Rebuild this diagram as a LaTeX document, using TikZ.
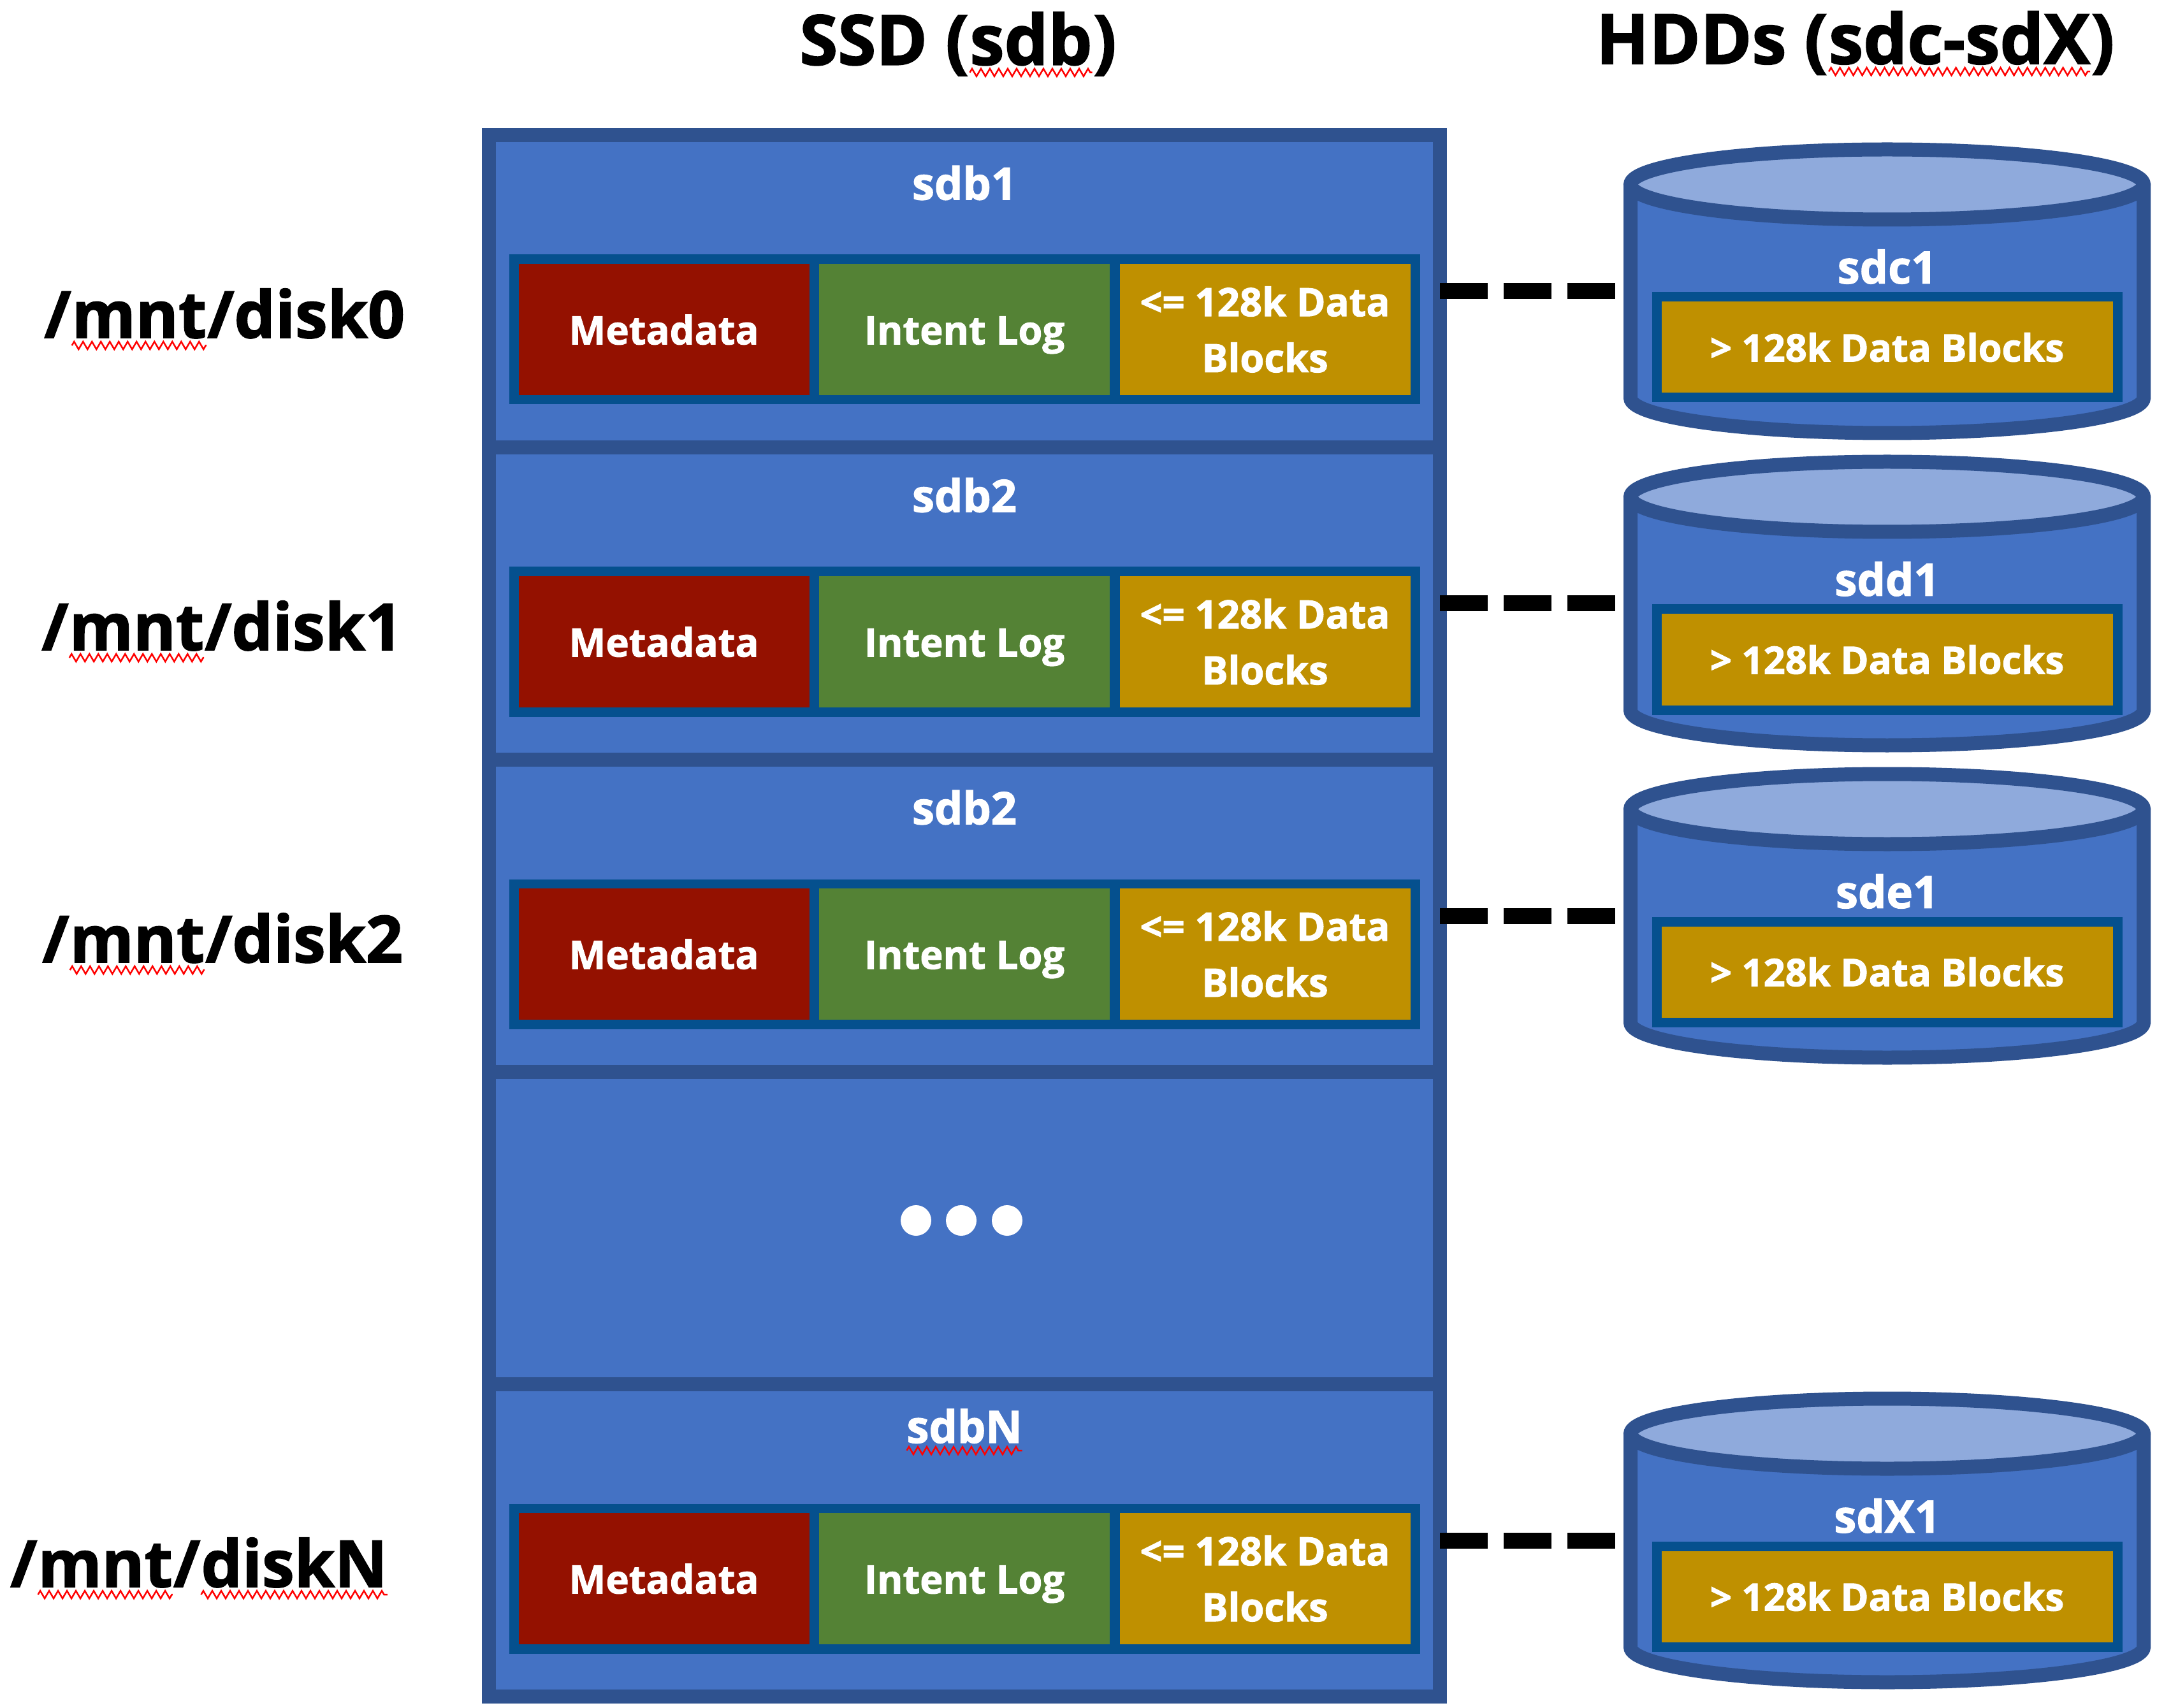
\documentclass[tikz,border=0pt]{standalone}
\usepackage{fontspec}
\setmainfont{Open Sans}[BoldFeatures={FakeBold=1.6}]
\usepackage{tikz}
\usetikzlibrary{calc}
\usetikzlibrary{positioning}
\usetikzlibrary{decorations.pathmorphing}

\definecolor{ssdblue}{HTML}{4472C4}
\definecolor{border}{HTML}{2F528F}
\definecolor{stripblue}{HTML}{05508E}
\definecolor{metared}{HTML}{941100}
\definecolor{loggreen}{HTML}{548235}
\definecolor{datagold}{HTML}{BF9000}
\definecolor{toplight}{HTML}{8FAADC}

% red wavy underline (spell check marks)
\tikzset{spell/.style={red,line width=0.25mm,decorate,decoration={zigzag,amplitude=0.6mm,segment length=1.4mm}}}
\newcommand\spellwave[1]{\tikz[baseline=(w.base)]{\node[inner sep=0pt,outer sep=0pt,minimum size=0pt,draw=none,fill=none,anchor=base] (w) {#1}; \draw[spell] ([yshift=-0.12cm]w.base west) -- ([yshift=-0.12cm]w.base east);}}

\begin{document}
\begin{tikzpicture}
\useasboundingbox (0,0) rectangle (33.84,-26.80);

\tikzstyle{part}=[draw=border,fill=ssdblue,line width=2.2mm,minimum width=14.92cm,minimum height=4.9cm,inner sep=0pt,outer sep=0pt]
\tikzstyle{strip}=[fill=stripblue,minimum width=14.29cm,minimum height=2.35cm,inner sep=0pt]
\tikzstyle{cell}=[minimum width=4.56cm,minimum height=2.06cm,inner sep=0pt,text=white,font=\fontsize{17.5}{25}\selectfont\bfseries,align=center]
\tikzstyle{metablk}=[cell,fill=metared,text height=13.3pt,text depth=0pt]
\tikzstyle{logblk}=[cell,fill=loggreen,text height=13.3pt,text depth=0pt]
\tikzstyle{lowblk}=[cell,fill=datagold]
\tikzstyle{plabel}=[text=white,font=\fontsize{20}{24}\selectfont\bfseries]
\tikzstyle{mount}=[font=\fontsize{29}{34}\selectfont\bfseries,inner sep=0pt]
\tikzstyle{head}=[font=\fontsize{31}{36}\selectfont\bfseries]
\tikzstyle{link}=[line width=2.5mm,dash pattern=on 7.5mm off 2.5mm]
\tikzstyle{hddframe}=[minimum width=8.05cm,minimum height=4.45cm,inner sep=0pt,outer sep=0pt]
\tikzstyle{hdd}=[draw=border,fill=ssdblue,line width=2.2mm]
\tikzstyle{hddtop}=[draw=border,fill=toplight,line width=2.2mm]
\tikzstyle{bigblk}=[draw=stripblue,fill=datagold,line width=1.5mm,minimum width=7.23cm,minimum height=1.58cm,inner sep=0pt,text=white,font=\fontsize{17}{20}\selectfont\bfseries]
\tikzstyle{dotmark}=[circle,fill=white,minimum size=0.48cm,inner sep=0pt]

    % SSD partitions
    \node (p1) [part] at (15.13,-4.57) {};
    \node (p2) [part,below=0pt of p1] {};
    \node (p3) [part,below=0pt of p2] {};
    \node (p4) [part,below=0pt of p3] {};
    \node (pN) [part,below=0pt of p4] {};

    \node (ssd) [head] at (p1.north)[xshift=-0.1cm,yshift=1.42cm] {SSD (\spellwave{sdb})};

    % sdb1
    \node (l1) [plabel] at (p1.north)[yshift=-0.75cm] {sdb1};
    \node (s1) [strip] at (p1.center)[yshift=-0.6cm] {};
    \node (m1) [metablk] at (s1.center)[xshift=-4.715cm] {Metadata};
    \node (i1) [logblk] at (s1.center) {Intent Log};
    \node (d1) [lowblk] at (s1.center)[xshift=4.715cm] {<= 128k Data\\Blocks};
    \node (mnt0) [mount,left=1.62cm of s1,yshift=0.16cm] {/\spellwave{mnt}/disk0};

    % sdb2
    \node (l2) [plabel] at (p2.north)[yshift=-0.75cm] {sdb2};
    \node (s2) [strip] at (p2.center)[yshift=-0.6cm] {};
    \node (m2) [metablk] at (s2.center)[xshift=-4.715cm] {Metadata};
    \node (i2) [logblk] at (s2.center) {Intent Log};
    \node (d2) [lowblk] at (s2.center)[xshift=4.715cm] {<= 128k Data\\Blocks};
    \node (mnt1) [mount,left=1.66cm of s2,yshift=0.16cm] {/\spellwave{mnt}/disk1};

    % third one
    \node (l3) [plabel] at (p3.north)[yshift=-0.75cm] {sdb2};
    \node (s3) [strip] at (p3.center)[yshift=-0.6cm] {};
    \node (m3) [metablk] at (s3.center)[xshift=-4.715cm] {Metadata};
    \node (i3) [logblk] at (s3.center) {Intent Log};
    \node (d3) [lowblk] at (s3.center)[xshift=4.715cm] {<= 128k Data\\Blocks};
    \node (mnt2) [mount,left=1.65cm of s3,yshift=0.16cm] {/\spellwave{mnt}/disk2};

    % dots
    \node (dt1) [dotmark] at (p4.center)[xshift=-0.76cm,yshift=0.12cm] {};
    \node (dt2) [dotmark] at (p4.center)[xshift=-0.05cm,yshift=0.12cm] {};
    \node (dt3) [dotmark] at (p4.center)[xshift=0.67cm,yshift=0.12cm] {};

    % sdbN
    \node (lN) [plabel] at (pN.north)[yshift=-0.75cm] {\spellwave{sdbN}};
    \node (sN) [strip] at (pN.center)[yshift=-0.6cm] {};
    \node (mN) [metablk] at (sN.center)[xshift=-4.715cm] {Metadata};
    \node (iN) [logblk] at (sN.center) {Intent Log};
    \node (dN) [lowblk] at (sN.center)[xshift=4.715cm] {<= 128k Data\\Blocks};
    \node (mntN) [mount,left=1.88cm of sN,yshift=0.16cm] {/\spellwave{mnt}/\spellwave{diskN}};

    % HDDs
    \node (c1) [hddframe,right=2.99cm of p1] {};
    \node (c2) [hddframe,right=2.99cm of p2] {};
    \node (c3) [hddframe,right=2.99cm of p3] {};
    \node (cN) [hddframe,right=2.99cm of pN] {};

    \node (hdds) [head] at (c1.north)[xshift=-0.5cm,yshift=1.66cm] {HDDs (\spellwave{sdc-sdX})};

    \draw [link] (p1) -- (c1);
    \draw [link] (p2) -- (c2);
    \draw [link] (p3) -- (c3);
    \draw [link] (pN) -- (cN);

\draw [hdd] ($(c1.north west)+(0,-0.55)$) -- ($(c1.south west)+(0,0.55)$) arc (180:360:4.025 and 0.55) -- ($(c1.north east)+(0,-0.55)$);
\draw [hddtop] ($(c1.north)+(0,-0.55)$) ellipse (4.025 and 0.55);
\node (n1) [plabel] at (c1.center)[yshift=0.385cm] {sdc1};
\node (b1) [bigblk] at (c1.center)[yshift=-0.88cm] {> 128k Data Blocks};

\draw [hdd] ($(c2.north west)+(0,-0.55)$) -- ($(c2.south west)+(0,0.55)$) arc (180:360:4.025 and 0.55) -- ($(c2.north east)+(0,-0.55)$);
\draw [hddtop] ($(c2.north)+(0,-0.55)$) ellipse (4.025 and 0.55);
\node (n2) [plabel] at (c2.center)[yshift=0.385cm] {sdd1};
\node (b2) [bigblk] at (c2.center)[yshift=-0.88cm] {> 128k Data Blocks};

\draw [hdd] ($(c3.north west)+(0,-0.55)$) -- ($(c3.south west)+(0,0.55)$) arc (180:360:4.025 and 0.55) -- ($(c3.north east)+(0,-0.55)$);
\draw [hddtop] ($(c3.north)+(0,-0.55)$) ellipse (4.025 and 0.55);
\node (n3) [plabel] at (c3.center)[yshift=0.385cm] {sde1};
\node (b3) [bigblk] at (c3.center)[yshift=-0.88cm] {> 128k Data Blocks};

\draw [hdd] ($(cN.north west)+(0,-0.55)$) -- ($(cN.south west)+(0,0.55)$) arc (180:360:4.025 and 0.55) -- ($(cN.north east)+(0,-0.55)$);
\draw [hddtop] ($(cN.north)+(0,-0.55)$) ellipse (4.025 and 0.55);
\node (nN) [plabel] at (cN.center)[yshift=0.385cm] {sdX1};
\node (bN) [bigblk] at (cN.center)[yshift=-0.88cm] {> 128k Data Blocks};
\end{tikzpicture}
\end{document}
